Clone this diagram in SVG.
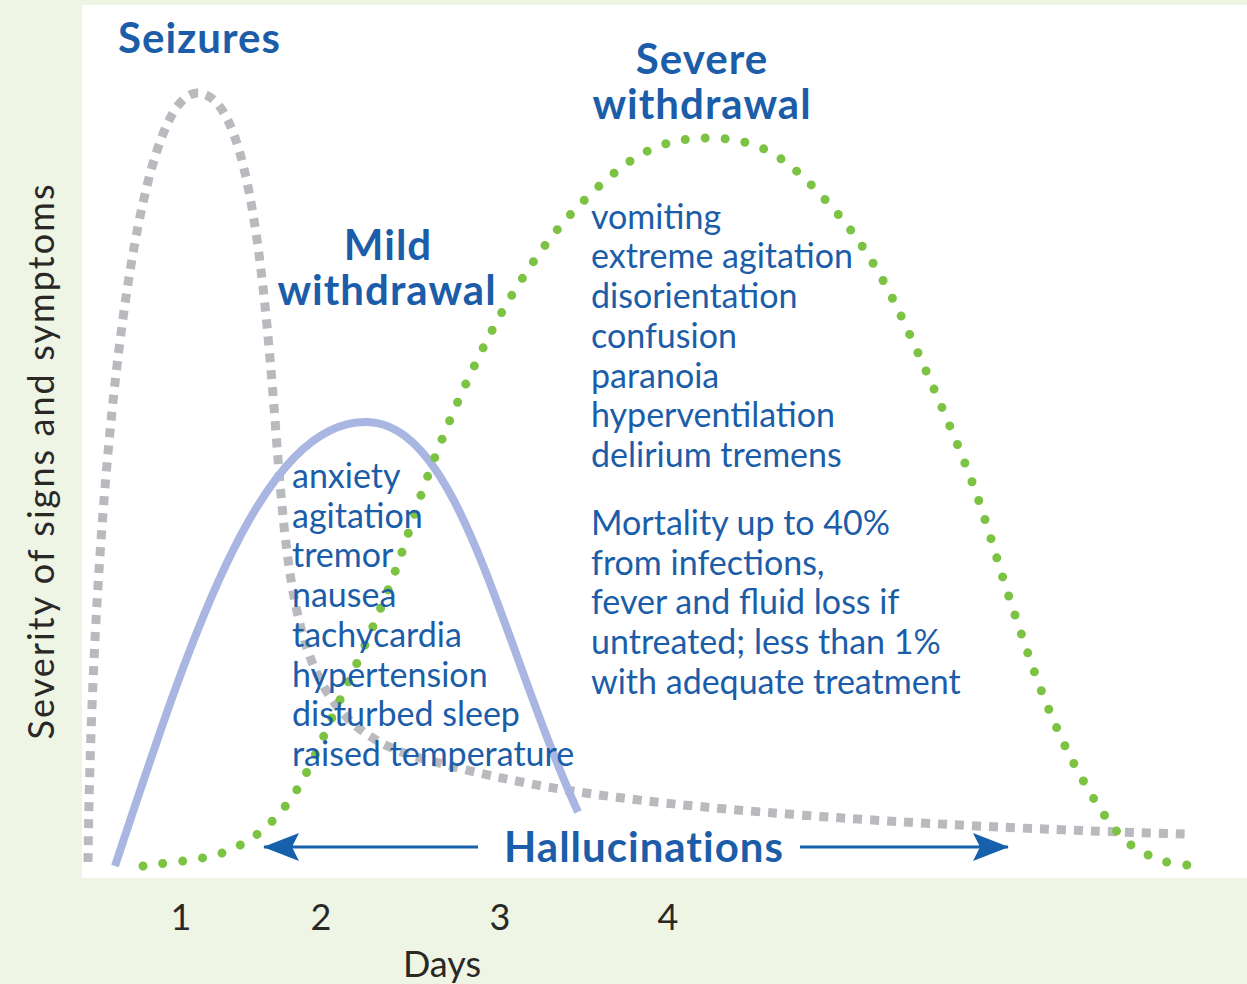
<svg xmlns="http://www.w3.org/2000/svg" width="1247" height="984" viewBox="0 0 1247 984">
<defs>
<style>
.head{font-family:Lato,"Liberation Sans",sans-serif;font-weight:bold;font-size:42px;letter-spacing:1px;fill:#1b5da8}
.body{font-family:Lato,"Liberation Sans",sans-serif;font-size:34px;fill:#1b5da8}
.axis{font-family:Lato,"Liberation Sans",sans-serif;font-size:36px;fill:#2a2826}
.seiz{fill:none;stroke:#b9babe;stroke-width:9;stroke-dasharray:9 8}
.mild{fill:none;stroke:#a9b6e1;stroke-width:8;stroke-linecap:butt}
.sev{fill:none;stroke:#7cc243;stroke-width:9;stroke-linecap:round;stroke-dasharray:0 20}
.arr{stroke:#1660ac;stroke-width:3;fill:none}
</style>
<marker id="ah" viewBox="0 0 36 28" refX="35" refY="14" markerWidth="36" markerHeight="28" markerUnits="userSpaceOnUse" orient="auto">
<path d="M0,0 L36,14 L0,28 L7,14 z" fill="#1660ac"/>
</marker>
</defs>
<rect width="1247" height="984" fill="#eef5e5"/>
<rect x="82" y="5" width="1165" height="873" fill="#ffffff"/>
<g id="connectors">
<path id="seizures-curve" class="seiz" d="M 88 862 C 92 520, 130 95, 197 93 C 245 92, 262 250, 275 420 C 290 620, 300 725, 420 758 C 520 785, 600 800, 800 815 C 950 826, 1080 831, 1185 834"/>
<path id="mild-curve" class="mild" d="M 115 866 C 190 640, 260 420, 367 422 C 460 424, 500 640, 578 812"/>
<path id="severe-curve" class="sev" d="M 143 866 C 157.5 863.3, 205.5 861, 230 850 C 254.5 839, 271.7 825, 290 800 C 308.3 775, 323.3 735.8, 340 700 C 356.7 664.2, 375 623.3, 390 585 C 405 546.7, 416.7 505, 430 470 C 443.3 435, 455.8 405, 470 375 C 484.2 345, 498.3 316.7, 515 290 C 531.7 263.3, 549.2 237.5, 570 215 C 590.8 192.5, 617.5 167.8, 640 155 C 662.5 142.2, 683.3 138.5, 705 138 C 726.7 137.5, 749.2 140.8, 770 152 C 790.8 163.2, 811.7 184.5, 830 205 C 848.3 225.5, 863.3 245.8, 880 275 C 896.7 304.2, 914.2 344.2, 930 380 C 945.8 415.8, 961.7 453.3, 975 490 C 988.3 526.7, 998.3 565, 1010 600 C 1021.7 635, 1033.3 670.8, 1045 700 C 1056.7 729.2, 1067.5 752.5, 1080 775 C 1092.5 797.5, 1106.7 820.8, 1120 835 C 1133.3 849.2, 1146.7 854.8, 1160 860 C 1173.3 865.2, 1193.3 865, 1200 866"/>
<line class="arr" x1="478" y1="847" x2="264" y2="847" marker-end="url(#ah)"/>
<line class="arr" x1="800" y1="847" x2="1008" y2="847" marker-end="url(#ah)"/>
</g>
<g id="seizures">
<text class="head" x="118" y="53">Seizures</text>
</g>
<g id="severe-withdrawal">
<text class="head" text-anchor="middle"><tspan x="702" y="74">Severe</tspan><tspan x="702" y="119">withdrawal</tspan></text>
<text class="body" x="591" y="229">vomiting</text>
<text class="body" x="591" y="268">extreme agitation</text>
<text class="body" x="591" y="308">disorientation</text>
<text class="body" x="591" y="348">confusion</text>
<text class="body" x="591" y="388">paranoia</text>
<text class="body" x="591" y="427">hyperventilation</text>
<text class="body" x="591" y="467">delirium tremens</text>
<text class="body" x="591" y="535">Mortality up to 40%</text>
<text class="body" x="591" y="575">from infections,</text>
<text class="body" x="591" y="614">fever and fluid loss if</text>
<text class="body" x="591" y="654">untreated; less than 1%</text>
<text class="body" x="591" y="694">with adequate treatment</text>
</g>
<g id="mild-withdrawal">
<text class="head" text-anchor="middle"><tspan x="388" y="260">Mild</tspan><tspan x="387" y="305">withdrawal</tspan></text>
<text class="body" x="292" y="488">anxiety</text>
<text class="body" x="292" y="528">agitation</text>
<text class="body" x="292" y="567">tremor</text>
<text class="body" x="292" y="607">nausea</text>
<text class="body" x="292" y="647">tachycardia</text>
<text class="body" x="292" y="687">hypertension</text>
<text class="body" x="292" y="726">disturbed sleep</text>
<text class="body" x="292" y="766">raised temperature</text>
</g>
<g id="hallucinations">
<text class="head" x="644" y="862" text-anchor="middle">Hallucinations</text>
</g>
<g id="axes">
<text class="axis" x="0" y="0" transform="translate(54,462) rotate(-90)" text-anchor="middle" font-size="38" textLength="555" lengthAdjust="spacing">Severity of signs and symptoms</text>
<text class="axis" x="181" y="930" text-anchor="middle">1</text>
<text class="axis" x="321" y="930" text-anchor="middle">2</text>
<text class="axis" x="500" y="930" text-anchor="middle">3</text>
<text class="axis" x="668" y="930" text-anchor="middle">4</text>
<text class="axis" x="442" y="977" text-anchor="middle">Days</text>
</g>
</svg>
